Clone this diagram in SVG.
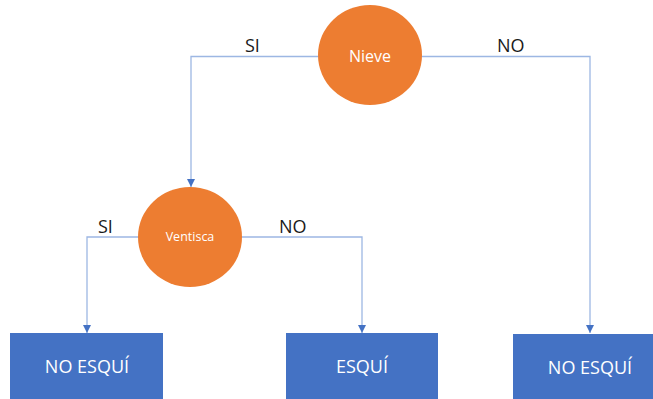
<svg xmlns="http://www.w3.org/2000/svg" width="653" height="399" viewBox="0 0 653 399">
  <defs>
    <marker id="arrow" viewBox="0 0 8 8" refX="8" refY="4" markerWidth="8" markerHeight="8" markerUnits="userSpaceOnUse" orient="auto">
      <path d="M0,0 L8,4 L0,8 Z" fill="#4472C4"/>
    </marker>
    <style>
      .edge { fill: none; stroke: #9DB7E3; stroke-width: 1.3; marker-end: url(#arrow); }
      .decision { fill: #ED7D31; }
      .leaf { fill: #4472C4; }
      .lbl { font-family: "Open Sans", "Liberation Sans", sans-serif; fill: #1a1a1a; font-size: 18px; }
      .wt { font-family: "Open Sans", "Liberation Sans", sans-serif; fill: #ffffff; text-anchor: middle; }
    </style>
  </defs>
  <rect width="653" height="399" fill="#ffffff"/>

  <!-- connectors -->
  <g id="connectors">
    <path class="edge" d="M320,56.5 H191 V187"/>
    <path class="edge" d="M420,56.5 H590 V333"/>
    <path class="edge" d="M140,237 H87 V333"/>
    <path class="edge" d="M240,237 H362 V333"/>
    <text class="lbl" x="245" y="52">SI</text>
    <text class="lbl" x="497" y="52">NO</text>
    <text class="lbl" x="98" y="233">SI</text>
    <text class="lbl" x="279" y="233">NO</text>
  </g>

  <g id="nieve">
    <ellipse class="decision" cx="370" cy="55" rx="52" ry="50"/>
    <text class="wt" x="370" y="62" font-size="16">Nieve</text>
  </g>

  <g id="ventisca">
    <ellipse class="decision" cx="190" cy="237" rx="52" ry="50"/>
    <text class="wt" x="190" y="241" font-size="12.5">Ventisca</text>
  </g>

  <g id="leaf-no-esqui-1">
    <rect class="leaf" x="10" y="333" width="153" height="66"/>
    <text class="wt" x="87" y="373" font-size="18">NO ESQUÍ</text>
  </g>

  <g id="leaf-esqui">
    <rect class="leaf" x="286" y="333" width="152" height="66"/>
    <text class="wt" x="362" y="373" font-size="18">ESQUÍ</text>
  </g>

  <g id="leaf-no-esqui-2">
    <rect class="leaf" x="513" y="334" width="153" height="66"/>
    <text class="wt" x="590" y="374" font-size="18">NO ESQUÍ</text>
  </g>
</svg>
